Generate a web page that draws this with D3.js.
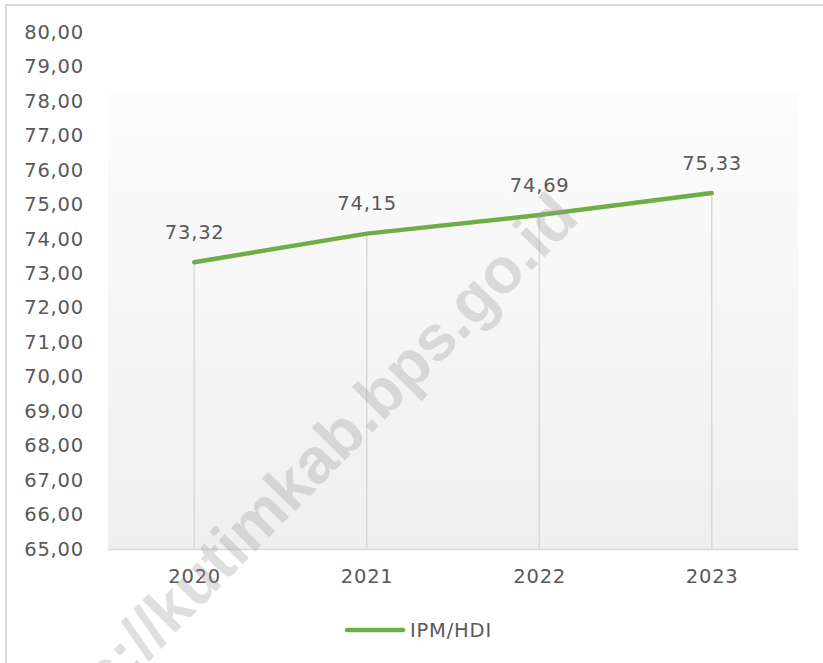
<!DOCTYPE html>
<html>
<head>
<meta charset="utf-8">
<script src="https://cdn.jsdelivr.net/npm/d3@7"></script>
<style>
  body { margin: 0; background: #fff; }
  svg { display: block; }
</style>
</head>
<body>
<div id="chart"></div>
<script>
// data
const years = ["2020", "2021", "2022", "2023"];
const ipm = [73.32, 74.15, 74.69, 75.33];
const yTicks = [65, 66, 67, 68, 69, 70, 71, 72, 73, 74, 75, 76, 77, 78, 79, 80];
const seriesName = "IPM/HDI";
const watermark = "https://kutimkab.bps.go.id";

const width = 823, height = 663;
const plot = { left: 108, right: 798, top: 32, bottom: 549 };
const textColor = "#595959";
const lineColor = "#70AD47";
const font = "'DejaVu Sans', Verdana, sans-serif";
const spacing = "0.8px";

const fmt = v => d3.format(".2f")(v).replace(".", ",");

const svg = d3.select("#chart").append("svg")
    .attr("width", width)
    .attr("height", height);

// chart border
svg.append("rect")
    .attr("x", 6).attr("y", 5)
    .attr("width", width + 20).attr("height", height + 20)
    .attr("fill", "#fff")
    .attr("stroke", "#d9d9d9")
    .attr("stroke-width", 2);

let defs = svg.append("defs");
let grad = defs.append("linearGradient")
    .attr("id", "bg")
    .attr("x1", 0).attr("y1", 0).attr("x2", 0).attr("y2", 1);
grad.append("stop").attr("offset", "0%").attr("stop-color", "#ffffff");
grad.append("stop").attr("offset", "11.5%").attr("stop-color", "#ffffff");
grad.append("stop").attr("offset", "11.6%").attr("stop-color", "#fcfcfc");
grad.append("stop").attr("offset", "100%").attr("stop-color", "#efefef");

const x = d3.scaleBand()
    .domain(years)
    .range([plot.left, plot.right]);

const y = d3.scaleLinear()
    .domain([65, 80])
    .range([plot.bottom, plot.top]);

const cx = d => x(d) + x.bandwidth() / 2;

svg.append("rect")
    .attr("x", plot.left)
    .attr("y", plot.top)
    .attr("width", plot.right - plot.left)
    .attr("height", plot.bottom - plot.top)
    .attr("fill", "url(#bg)");

// drop lines
svg.selectAll("line.drop")
    .data(years)
    .enter()
    .append("line")
    .classed("drop", true)
    .attr("x1", d => cx(d))
    .attr("x2", d => cx(d))
    .attr("y1", (d, i) => y(ipm[i]))
    .attr("y2", plot.bottom)
    .attr("stroke", "#d9d9d9")
    .attr("stroke-width", 1.5);

// y axis labels
let yAxis = svg.append("g")
    .attr("transform", `translate(${plot.left},0)`)
    .call(d3.axisLeft(y).tickValues(yTicks).tickFormat(fmt).tickSize(0).tickPadding(24));
yAxis.select(".domain").remove();
yAxis.selectAll("text")
    .attr("fill", textColor)
    .style("font-family", font)
    .style("font-size", "19.5px")
    .style("letter-spacing", spacing);

// x axis
let xAxis = svg.append("g")
    .attr("transform", `translate(0,${plot.bottom})`)
    .call(d3.axisBottom(x).tickSize(0).tickPadding(20));
xAxis.select(".domain")
    .attr("stroke", "#d9d9d9")
    .attr("stroke-width", 1.5);
xAxis.selectAll("text")
    .attr("fill", textColor)
    .attr("dx", "0.4px")
    .style("font-family", font)
    .style("font-size", "19.5px")
    .style("letter-spacing", spacing);

// series line
let line = d3.line()
    .x((d, i) => cx(years[i]))
    .y(d => y(d));

svg.append("path")
    .datum(ipm)
    .attr("d", line)
    .attr("fill", "none")
    .attr("stroke", lineColor)
    .attr("stroke-width", 4.5)
    .attr("stroke-linecap", "round")
    .attr("stroke-linejoin", "round");

// data labels
svg.selectAll("text.label")
    .data(ipm)
    .enter()
    .append("text")
    .classed("label", true)
    .attr("x", (d, i) => cx(years[i]) + 0.4)
    .attr("y", d => y(d) - 30)
    .attr("dy", "0.35em")
    .attr("text-anchor", "middle")
    .attr("fill", textColor)
    .style("font-family", font)
    .style("font-size", "19.5px")
    .style("letter-spacing", spacing)
    .text(d => fmt(d));

// legend
let legend = svg.append("g").attr("transform", "translate(347,630)");
legend.append("line")
    .attr("x1", 0).attr("x2", 56)
    .attr("y1", 0).attr("y2", 0)
    .attr("stroke", lineColor)
    .attr("stroke-width", 4.5)
    .attr("stroke-linecap", "round");
legend.append("text")
    .attr("x", 63)
    .attr("y", 0)
    .attr("dy", "0.35em")
    .attr("fill", textColor)
    .style("font-family", font)
    .style("font-size", "19.5px")
    .style("letter-spacing", spacing)
    .text(seriesName);

// watermark
svg.append("text")
    .attr("transform", "translate(581,220) rotate(-45.5)")
    .attr("text-anchor", "end")
    .attr("fill", "#9a9a9a")
    .attr("fill-opacity", 0.32)
    .style("font-family", "'Liberation Sans', Arial, sans-serif")
    .style("font-weight", "bold")
    .style("font-size", "64px")
    .text(watermark);
</script>
</body>
</html>
